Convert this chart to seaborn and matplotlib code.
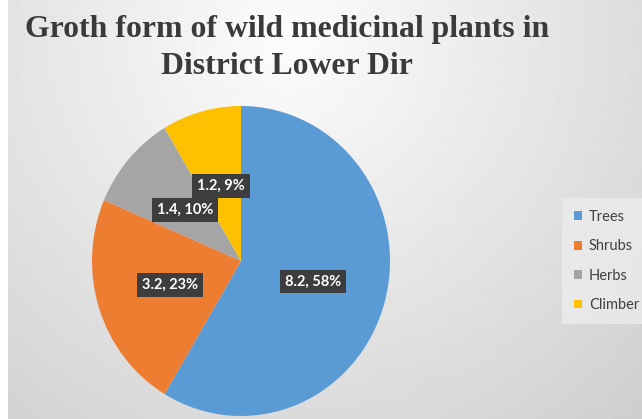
import numpy as np
import matplotlib
matplotlib.use("Agg")
import matplotlib.pyplot as plt
import seaborn as sns

categories = ["Trees", "Shrubs", "Herbs", "Climber"]
values = [8.2, 3.2, 1.4, 1.2]
pct_labels = ["58%", "23%", "10%", "9%"]
colors = ["#5B9BD5", "#ED7D31", "#A5A5A5", "#FFC000"]
title_lines = ["Groth form of wild medicinal plants in", "District Lower Dir"]

sns.set_theme(style="white")
plt.rcParams['font.family'] = ['Lato', 'DejaVu Sans']
palette = sns.color_palette(colors)

W, H = 642, 419
fig = plt.figure(figsize=(W / 100, H / 100), dpi=100)

# background gradient
bg = fig.add_axes([0, 0, 1, 1], zorder=0)
yy, xx = np.mgrid[0:H, 0:W]
d = np.sqrt(((xx - 290) / 400) ** 2 + ((yy - 40) / 400) ** 2)
v = np.clip(0.99 - 0.14 * d, 0, 1)
bg.imshow(v, cmap='gray', vmin=0, vmax=1, extent=[0, W, H, 0], aspect='auto', origin='upper')
bg.axvspan(0, 8, color='white', lw=0)
bg.set_xlim(0, W)
bg.set_ylim(H, 0)
bg.axis('off')

# pie
ax = fig.add_axes([92 / W, (H - 416) / H, 298 / W, 310 / H], zorder=1)
wedges, texts, autotexts = ax.pie(values, colors=palette, startangle=90, counterclock=False,
                                  autopct='%1.0f%%', pctdistance=0.5,
                                  wedgeprops=dict(linewidth=0))
ax.set_aspect('auto')
ax.set_xlim(-1, 1)
ax.set_ylim(-1, 1)
for t, val, p in zip(autotexts, values, pct_labels):
    t.set_text(f"{val}, {p}")
    t.set_color('white')
    t.set_fontsize(10.5)
    t.set_fontweight('bold')
    t.set_bbox(dict(boxstyle='square,pad=0.33', facecolor='#3d3d3d', edgecolor='none'))

# legend
leg = fig.legend(wedges, categories, loc='center left', bbox_to_anchor=(562 / W, 1 - 261 / H),
                 borderaxespad=0, borderpad=0.8, handlelength=0.55, handleheight=0.55,
                 handletextpad=0.5, labelspacing=1.06, frameon=True, fancybox=False,
                 facecolor='#ececec', edgecolor='none', framealpha=0.8,
                 prop={'family': 'Lato', 'size': 10.5})
for txt in leg.get_texts():
    txt.set_color('#404040')

# title
fig.text(287 / W, 1 - 29 / H, title_lines[0], ha='center', va='center', fontsize=22.9,
         family='Liberation Serif', weight='bold', color='#3a3a3a')
fig.text(287 / W, 1 - 67 / H, title_lines[1], ha='center', va='center', fontsize=22.9,
         family='Liberation Serif', weight='bold', color='#3a3a3a')

fig.savefig('out.png', dpi=100)
